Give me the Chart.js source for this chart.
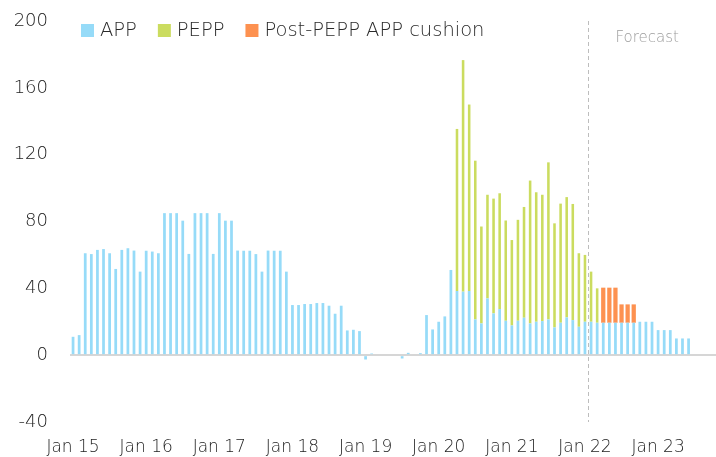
<!DOCTYPE html>
<html>
<head>
<meta charset="utf-8">
<script src="https://cdn.jsdelivr.net/npm/chart.js@4.4.1/dist/chart.umd.min.js"></script>
<style>
  html, body { margin: 0; padding: 0; background: #fff; }
  #wrap { width: 716px; height: 457px; }
</style>
</head>
<body>
<div id="wrap"><canvas id="chart" width="716" height="457"></canvas></div>
<script>
// monthly categories, Jan 15 .. Oct 23
const years = ['15', '16', '17', '18', '19', '20', '21', '22', '23'];
const months = ['Jan', 'Feb', 'Mar', 'Apr', 'May', 'Jun', 'Jul', 'Aug', 'Sep', 'Oct', 'Nov', 'Dec'];
const categories = [];
years.forEach((y) => months.forEach((m) => categories.push(m + ' ' + y)));
categories.length = 106;

const forecastFrom = 'Jan 22';

// net purchases, EUR bn
const app = [
  11, 12, 61, 60.5, 63, 63.5, 61, 51.6, 63, 64, 62.6, 50,          // 2015
  62.5, 62, 61, 85, 85, 85, 80.5, 60.6, 85, 85, 85, 60.6,          // 2016
  85, 80.5, 80.5, 62.6, 62.5, 62.5, 60.5, 50, 62.6, 62.5, 62.5, 50, // 2017
  30, 30, 30.6, 30.6, 31.2, 31.2, 29.6, 24.8, 29.6, 14.8, 15.2, 14.4, // 2018
  -2.6, 1, 0, 0, 0.6, 0, -2, 1.4, 0, 1.2, 24, 15.4,                // 2019
  20, 23.2, 51, 38.4, 38, 38.4, 21.4, 19, 34, 25, 27.6, 20.6,      // 2020
  17.8, 20.6, 22.4, 19, 20, 20.4, 21.4, 16.6, 19.4, 22.6, 21, 17,  // 2021
  20, 20, 19.4, 19.4, 19.4, 19.4, 19.4, 19.4, 19.4, 20, 20, 20,    // 2022
  15, 15, 15, 10, 10, 10, null, null, null, null                   // 2023
];

const pepp = [
  null, null, null, null, null, null, null, null, null, null, null, null,
  null, null, null, null, null, null, null, null, null, null, null, null,
  null, null, null, null, null, null, null, null, null, null, null, null,
  null, null, null, null, null, null, null, null, null, null, null, null,
  null, null, null, null, null, null, null, null, null, null, null, null,
  null, null, null, 97, 138.6, 111.6, 95, 58, 62, 68.7, 69.3, 60,   // 2020
  51.1, 60.4, 66.3, 85.5, 77.5, 75.6, 94, 62.3, 71.3, 72, 69.5, 44, // 2021
  40, 30, 20.6, null, null, null, null, null, null, null, null, null, // 2022
  null, null, null, null, null, null, null, null, null, null
];

const cushion = [
  null, null, null, null, null, null, null, null, null, null, null, null,
  null, null, null, null, null, null, null, null, null, null, null, null,
  null, null, null, null, null, null, null, null, null, null, null, null,
  null, null, null, null, null, null, null, null, null, null, null, null,
  null, null, null, null, null, null, null, null, null, null, null, null,
  null, null, null, null, null, null, null, null, null, null, null, null,
  null, null, null, null, null, null, null, null, null, null, null, null,
  null, null, null, 21, 21, 21, 11, 11, 11, null, null, null,       // 2022
  null, null, null, null, null, null, null, null, null, null
];

const yTicks = [-40, 0, 40, 80, 120, 160, 200];

const FONT = '"DejaVu Sans", "Noto Sans", sans-serif';

const overlay = {
  id: 'overlay',
  afterDatasetsDraw(chart) {
    const { ctx, chartArea, scales: { x } } = chart;
    const i = categories.indexOf(forecastFrom);
    const px = Math.round((x.getPixelForValue(i) + x.getPixelForValue(i + 1)) / 2) + 0.5;

    ctx.save();
    ctx.strokeStyle = '#bdbdbd';
    ctx.lineWidth = 1;
    ctx.setLineDash([4, 3]);
    ctx.beginPath();
    ctx.moveTo(px, chartArea.top);
    ctx.lineTo(px, chartArea.bottom);
    ctx.stroke();
    ctx.setLineDash([]);

    ctx.fillStyle = '#9c9c9c';
    ctx.font = '300 15px ' + FONT;
    ctx.textBaseline = 'middle';
    ctx.fillText('Forecast', px + 27, 38);

    // legend
    let lx = 81;
    ctx.font = '300 19.5px ' + FONT;
    chart.data.datasets.forEach((ds) => {
      ctx.fillStyle = ds.backgroundColor;
      ctx.fillRect(lx, 24, 13, 13);
      ctx.fillStyle = '#2a2a2a';
      ctx.fillText(ds.label, lx + 19, 31);
      lx += 19 + ctx.measureText(ds.label).width + 21;
    });
    ctx.restore();
  }
};

new Chart(document.getElementById('chart'), {
  type: 'bar',
  data: {
    labels: categories,
    datasets: [
      { label: 'APP', data: app, backgroundColor: '#96dbf8', barPercentage: 0.45 },
      { label: 'PEPP', data: pepp, backgroundColor: '#cbdc5f', barPercentage: 0.42 },
      { label: 'Post-PEPP APP cushion', data: cushion, backgroundColor: '#fd9150', barPercentage: 0.7 },
    ],
  },
  options: {
    responsive: false,
    animation: false,
    events: [],
    layout: { padding: { top: 21, bottom: 0, left: 0, right: 0 } },
    datasets: { bar: { categoryPercentage: 1 } },
    plugins: { legend: { display: false }, tooltip: { enabled: false } },
    scales: {
      x: {
        stacked: true,
        afterFit: (scale) => {
          scale.height = 35;
          scale.paddingLeft = 0;
          scale.paddingRight = 0;
        },
        border: { display: false },
        grid: { display: false, drawTicks: false },
        ticks: {
          autoSkip: false,
          maxRotation: 0,
          padding: 15,
          color: '#222',
          font: { family: FONT, size: 17, weight: 300 },
          callback: (v, i) => (categories[i].startsWith('Jan') ? categories[i] : ''),
        },
      },
      y: {
        stacked: true,
        min: yTicks[0],
        max: yTicks[yTicks.length - 1],
        afterFit: (scale) => {
          scale.width = 70;
          scale.paddingTop = 0;
          scale.paddingBottom = 0;
        },
        afterBuildTicks: (scale) => { scale.ticks = yTicks.map((v) => ({ value: v })); },
        border: { display: false },
        grid: {
          drawTicks: false,
          lineWidth: 2,
          color: (c) => (c.tick && c.tick.value === 0 ? '#d6d6d6' : 'rgba(0,0,0,0)'),
        },
        ticks: {
          padding: 22,
          color: '#222',
          font: { family: FONT, size: 18, weight: 300 },
        },
      },
    },
  },
  plugins: [overlay],
});
</script>
</body>
</html>
